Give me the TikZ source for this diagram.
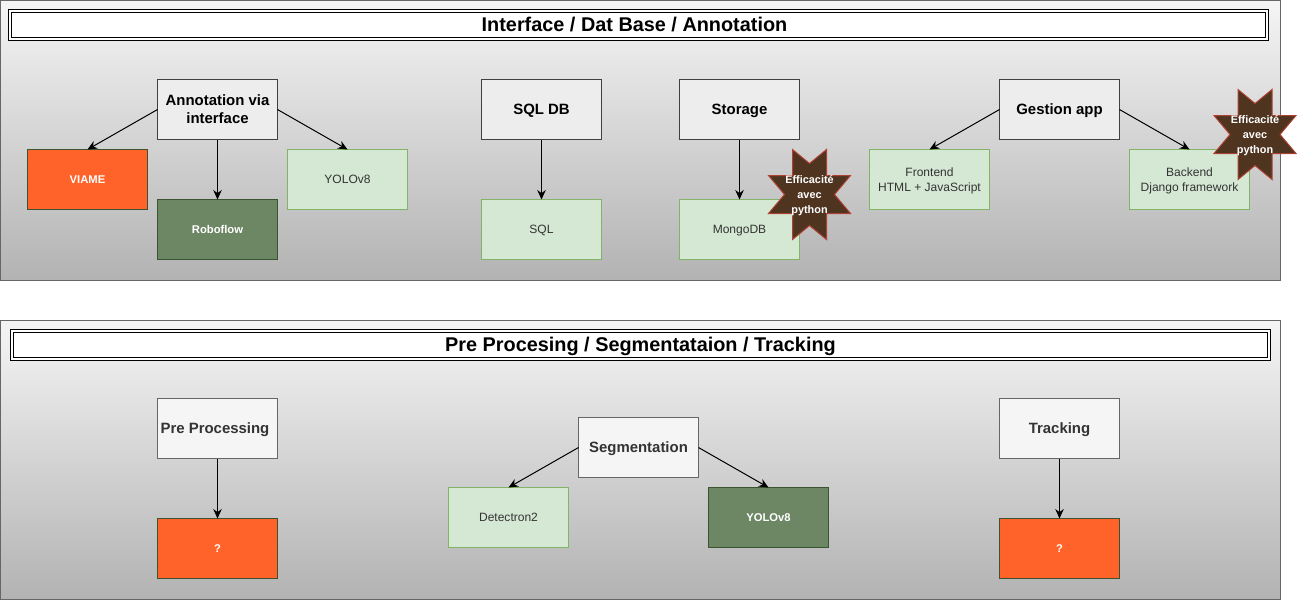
\documentclass[tikz,border=0pt]{standalone}
\usepackage{fontspec}
\setmainfont{Liberation Sans}
\usetikzlibrary{arrows.meta}
\definecolor{orangefill}{HTML}{FF6329}
\definecolor{darkgreen}{HTML}{6D8764}
\definecolor{darkline}{HTML}{3A5431}
\definecolor{lightgreen}{HTML}{D5E8D4}
\definecolor{greenline}{HTML}{82B366}
\definecolor{burstfill}{HTML}{4F3420}
\definecolor{burstline}{HTML}{AE4132}
\tikzset{
    panel/.style={draw=black!60, line width=0.02cm, top color=black!4, bottom color=black!30},
    titlebox/.style={draw=black, fill=white, double=white, line width=0.02cm, double distance=0.04cm, inner sep=0pt, outer sep=0pt,
        minimum height=0.56cm, minimum width=25.14cm, text depth=-0.04cm, font=\fontsize{11.3}{13}\selectfont\bfseries},
    box/.style={draw, line width=0.02cm, minimum width=2.4cm, minimum height=1.2cm, inner sep=0pt, outer sep=0pt, align=center, text depth=0pt},
    head/.style={box, text depth=-0.04cm, fill=black!7, draw=black!75, text=black, font=\fontsize{8.5}{10.2}\selectfont\bfseries},
    headlight/.style={box, text depth=-0.04cm, fill=black!4, draw=black!60, text=black!80, font=\fontsize{8.5}{10.2}\selectfont\bfseries},
    leaf/.style={box, fill=lightgreen, draw=greenline, text=black!80, font=\fontsize{6.85}{8.5}\selectfont},
    leafdark/.style={box, fill=darkgreen, draw=darkline, text=white, font=\fontsize{6.4}{8.5}\selectfont\bfseries},
    leaforange/.style={box, fill=orangefill, draw=darkline, text=white, font=\fontsize{6.4}{8.5}\selectfont\bfseries},
    burst/.style={fill=burstfill, draw=burstline, line width=0.02cm},
    bursttext/.style={text=white, align=center, inner sep=0pt, text depth=0pt, font=\fontsize{6.2}{8.5}\selectfont\bfseries},
    link/.style={-{Stealth[length=0.19cm,width=0.17cm]}, line width=0.02cm, black},
}
\newcommand{\burstnode}[2]{
    \draw[burst, shift={(#2)}] (-17,-45) -- (0,-31) -- (17,-45) -- (17,-19) -- (41,-19) -- (25,0) -- (41,19) -- (17,19)
        -- (17,45) -- (0,31) -- (-17,45) -- (-17,19) -- (-41,19) -- (-25,0) -- (-41,-19) -- (-17,-19) -- cycle;
    \node[bursttext] (#1) at (#2) {Efficacité\\avec\\python};
}
\begin{document}
\begin{tikzpicture}[x=0.02cm, y=-0.02cm]
    \useasboundingbox (0,0) rectangle (1301,600);
    % panels
    \path[panel] (0.5,0.5) rectangle (1280.5,280);
    \path[panel] (0.5,320) rectangle (1280.5,599.5);
    \node[titlebox] (title1) at (638.5,24.5) {\hspace{-0.16cm}Interface / Dat Base / Annotation};
    \node[titlebox] (title2) at (640.5,344.5) {Pre Procesing / Segmentataion / Tracking};

    % upper panel
    \node[head] (annot) at (217.5,109.5) {Annotation via\\interface};
    \node[leaforange] (viame) at (87.5,179.5) {VIAME};
    \node[leafdark] (roboflow) at (217.5,229.5) {Roboflow};
    \node[leaf] (yolo) at (347.5,179.5) {YOLOv8};
    \node[head] (sqldb) at (541.5,109.5) {SQL DB};
    \node[leaf] (sql) at (541.5,229.5) {SQL};
    \node[head] (storage) at (739.5,109.5) {Storage};
    \node[leaf] (mongo) at (739.5,229.5) {MongoDB};
    \node[head] (gestion) at (1059.5,109.5) {Gestion app};
    \node[leaf] (front) at (929.5,179.5) {Frontend\\HTML + JavaScript};
    \node[leaf] (back) at (1189.5,179.5) {Backend\\Django framework};
    \draw[link] (annot.west) -- (viame.north);
    \draw[link] (annot.south) -- (roboflow.north);
    \draw[link] (annot.east) -- (yolo.north);
    \draw[link] (sqldb.south) -- (sql.north);
    \draw[link] (storage.south) -- (mongo.north);
    \draw[link] (gestion.west) -- (front.north);
    \draw[link] (gestion.east) -- (back.north);
    \burstnode{burst1}{809.5,194.5}
    \burstnode{burst2}{1255,134.5}

    % lower panel
    \node[headlight] (prep) at (217.5,428.5) {Pre Processing\hspace{0.1cm}};
    \node[leaforange] (prepq) at (217.5,548.5) {?};
    \node[headlight] (segm) at (638.5,447.5) {Segmentation};
    \node[leaf] (detectron) at (508.5,517.5) {Detectron2};
    \node[leafdark] (yolob) at (768.5,517.5) {YOLOv8};
    \node[headlight] (track) at (1059.5,428.5) {Tracking};
    \node[leaforange] (trackq) at (1059.5,548.5) {?};
    \draw[link] (prep.south) -- (prepq.north);
    \draw[link] (segm.west) -- (detectron.north);
    \draw[link] (segm.east) -- (yolob.north);
    \draw[link] (track.south) -- (trackq.north);
\end{tikzpicture}
\end{document}
